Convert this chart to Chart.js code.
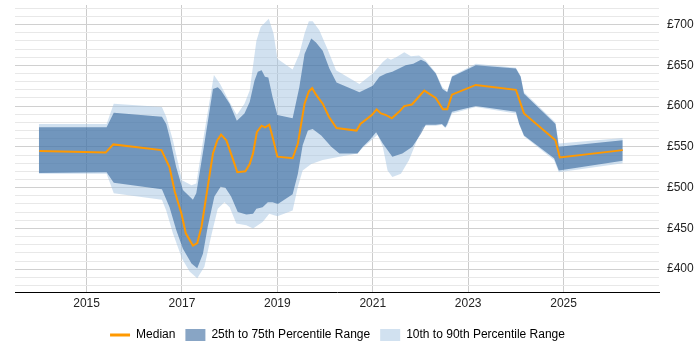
<!DOCTYPE html>
<html>
<head>
<meta charset="utf-8">
<script src="https://cdn.jsdelivr.net/npm/chart.js@4.4.0/dist/chart.umd.min.js"></script>
<style>
  html, body { margin: 0; padding: 0; background: #fff; }
  #wrap { width: 700px; height: 350px; }
</style>
</head>
<body>
<div id="wrap"><canvas id="chart" width="700" height="350"></canvas></div>
<script>
// [year, £] pairs
const median = [[2014.01,545],[2015.40,543],[2015.56,553],[2016.57,546],[2016.74,525],[2016.85,495],[2016.99,468],[2017.08,444],[2017.23,429],[2017.32,432],[2017.41,452],[2017.54,501],[2017.65,542],[2017.74,558],[2017.82,565],[2017.93,558],[2018.05,538],[2018.16,519],[2018.33,520],[2018.42,529],[2018.49,542],[2018.57,568],[2018.67,576],[2018.74,574],[2018.83,577],[2018.90,562],[2019.00,538],[2019.32,536],[2019.43,554],[2019.57,603],[2019.66,618],[2019.73,622],[2019.81,614],[2019.95,603],[2020.08,587],[2020.24,573],[2020.66,570],[2020.74,578],[2020.98,589],[2021.08,596],[2021.17,591],[2021.28,589],[2021.40,585],[2021.55,593],[2021.66,600],[2021.82,602],[2022.08,619],[2022.32,610],[2022.47,596],[2022.56,596],[2022.66,614],[2023.16,626],[2024.00,620],[2024.17,591],[2024.83,558],[2024.92,537],[2026.24,546]];

const p75 = [[2014.00,574],[2015.42,574],[2015.57,592],[2016.58,587],[2016.67,578],[2016.74,562],[2016.88,525],[2017.02,497],[2017.23,485],[2017.30,493],[2017.47,554],[2017.65,621],[2017.75,623],[2017.82,619],[2018.00,603],[2018.15,582],[2018.31,591],[2018.42,605],[2018.52,631],[2018.59,642],[2018.67,644],[2018.74,636],[2018.81,635],[2018.90,611],[2019.00,589],[2019.32,585],[2019.46,623],[2019.57,664],[2019.71,683],[2019.81,678],[2019.95,668],[2020.09,646],[2020.24,629],[2020.72,617],[2021.00,625],[2021.14,636],[2021.28,640],[2021.41,642],[2021.55,646],[2021.69,650],[2021.85,652],[2022.01,657],[2022.11,654],[2022.32,640],[2022.46,621],[2022.56,617],[2022.66,636],[2023.16,650],[2024.00,646],[2024.10,636],[2024.17,615],[2024.83,578],[2024.90,550],[2026.24,558]];

const p25 = [[2014.00,518],[2015.42,519],[2015.57,506],[2016.58,498],[2016.74,476],[2016.88,448],[2017.02,425],[2017.20,407],[2017.32,401],[2017.44,419],[2017.54,452],[2017.68,489],[2017.81,501],[2017.91,500],[2018.03,489],[2018.17,470],[2018.35,467],[2018.49,468],[2018.56,474],[2018.69,476],[2018.80,482],[2018.90,482],[2019.01,480],[2019.32,492],[2019.43,517],[2019.53,552],[2019.64,570],[2019.74,572],[2019.92,564],[2020.13,550],[2020.30,542],[2020.68,542],[2020.79,550],[2020.93,558],[2021.07,568],[2021.21,554],[2021.41,538],[2021.62,542],[2021.83,550],[2022.01,566],[2022.11,577],[2022.32,577],[2022.45,578],[2022.52,574],[2022.56,578],[2022.66,593],[2023.16,600],[2024.00,593],[2024.07,578],[2024.17,564],[2024.80,536],[2024.90,521],[2026.24,533]];

const p90 = [[2014.00,578],[2015.42,578],[2015.57,603],[2016.58,599],[2016.67,587],[2016.81,558],[2017.00,509],[2017.20,503],[2017.30,505],[2017.47,568],[2017.67,638],[2017.80,627],[2017.98,607],[2018.15,589],[2018.31,603],[2018.42,619],[2018.56,680],[2018.65,697],[2018.82,707],[2018.92,689],[2019.00,658],[2019.32,645],[2019.46,664],[2019.57,689],[2019.66,704],[2019.74,704],[2019.88,693],[2020.05,670],[2020.23,644],[2020.72,627],[2021.00,640],[2021.21,654],[2021.31,659],[2021.38,657],[2021.49,660],[2021.66,666],[2021.80,661],[2021.97,662],[2022.11,656],[2022.32,641],[2022.46,623],[2022.56,618],[2022.66,637],[2023.16,652],[2024.00,647],[2024.10,637],[2024.17,617],[2024.83,580],[2024.90,554],[2026.24,561]];

const p10 = [[2014.00,517],[2015.42,517],[2015.57,493],[2016.58,485],[2016.67,472],[2016.81,444],[2017.00,413],[2017.16,397],[2017.32,389],[2017.47,403],[2017.61,440],[2017.75,474],[2017.89,482],[2018.00,476],[2018.14,456],[2018.35,454],[2018.49,450],[2018.69,458],[2018.83,468],[2019.00,465],[2019.32,472],[2019.43,501],[2019.53,521],[2019.71,529],[2019.95,534],[2020.30,538],[2020.68,542],[2020.79,549],[2020.93,556],[2021.10,565],[2021.21,550],[2021.31,521],[2021.41,513],[2021.59,517],[2021.76,534],[2021.90,554],[2022.04,574],[2022.11,576],[2022.32,576],[2022.45,577],[2022.52,573],[2022.56,576],[2022.66,591],[2023.16,599],[2024.00,591],[2024.07,577],[2024.17,563],[2024.80,534],[2024.90,519],[2026.24,530]];

const yearTicks = [2015, 2017, 2019, 2021, 2023, 2025];
const payTicks = [380, 390, 400, 410, 420, 430, 440, 450, 460, 470, 480, 490, 500, 510, 520, 530, 540, 550, 560, 570, 580, 590, 600, 610, 620, 630, 640, 650, 660, 670, 680, 690, 700, 710, 720];
const labels = ['Median', '25th to 75th Percentile Range', '10th to 90th Percentile Range'];

const ORANGE = '#ff9900';
const DARK = 'rgba(17,75,140,0.5)';
const LIGHT = 'rgba(164,196,226,0.5)';

const pts = arr => arr.map(p => ({ x: p[0], y: p[1] }));
const FONT = 'Liberation Sans, Arial, sans-serif';

// legend sits centred under the plot, not the whole canvas
const shiftLegend = {
  id: 'shiftLegend',
  afterLayout(chart) {
    chart.legend.left -= 20;
    chart.legend.right -= 20;
  }
};

new Chart(document.getElementById('chart'), {
  type: 'line',
  data: {
    datasets: [
      { label: labels[0], data: pts(median), borderColor: ORANGE, borderWidth: 2, pointRadius: 0, fill: false, order: 0, tension: 0 },
      { label: labels[1], data: pts(p75), borderWidth: 0, pointRadius: 0, backgroundColor: DARK, fill: '+1', order: 1, tension: 0 },
      { label: 'p25', data: pts(p25), borderWidth: 0, pointRadius: 0, fill: false, order: 1, tension: 0 },
      { label: labels[2], data: pts(p90), borderWidth: 0, pointRadius: 0, backgroundColor: LIGHT, fill: '+1', order: 2, tension: 0 },
      { label: 'p10', data: pts(p10), borderWidth: 0, pointRadius: 0, fill: false, order: 2, tension: 0 }
    ]
  },
  plugins: [shiftLegend],
  options: {
    responsive: false,
    animation: false,
    layout: { padding: { left: 15, right: 0, top: 5, bottom: -1 } },
    plugins: {
      tooltip: { enabled: false },
      legend: {
        position: 'bottom',
        labels: {
          usePointStyle: true,
          pointStyleWidth: 20,
          padding: 10,
          color: '#222',
          font: { family: FONT, size: 12 },
          generateLabels: () => [
            { text: labels[0], fillStyle: ORANGE, strokeStyle: ORANGE, lineWidth: 3, pointStyle: 'line', datasetIndex: 0 },
            { text: labels[1], fillStyle: DARK, strokeStyle: DARK, lineWidth: 0, pointStyle: 'rect', datasetIndex: 1 },
            { text: labels[2], fillStyle: LIGHT, strokeStyle: LIGHT, lineWidth: 0, pointStyle: 'rect', datasetIndex: 3 }
          ]
        }
      }
    },
    scales: {
      x: {
        type: 'linear',
        min: 2013.5,
        max: 2027,
        afterBuildTicks: s => { s.ticks = yearTicks.map(v => ({ value: v })); },
        afterFit: s => { s.height = 27; s.paddingLeft = 0; s.paddingRight = 0; },
        grid: { color: '#cccccc', drawTicks: false },
        border: { color: '#000', width: 1 },
        ticks: { padding: 4, color: '#222', font: { family: FONT, size: 12 }, callback: v => String(v) }
      },
      y: {
        position: 'right',
        min: 372,
        max: 724,
        afterBuildTicks: s => { s.ticks = payTicks.map(v => ({ value: v })); },
        afterFit: s => { s.width = 41; s.paddingTop = 0; s.paddingBottom = 0; },
        grid: { color: c => c.tick.value % 50 === 0 ? '#d0d0d0' : '#e8e8e8', drawTicks: false },
        border: { display: false },
        ticks: { padding: 8, color: '#222', font: { family: FONT, size: 12 }, autoSkip: false,
          callback: v => v % 50 === 0 ? '£' + v : '' }
      }
    }
  }
});
</script>
</body>
</html>
